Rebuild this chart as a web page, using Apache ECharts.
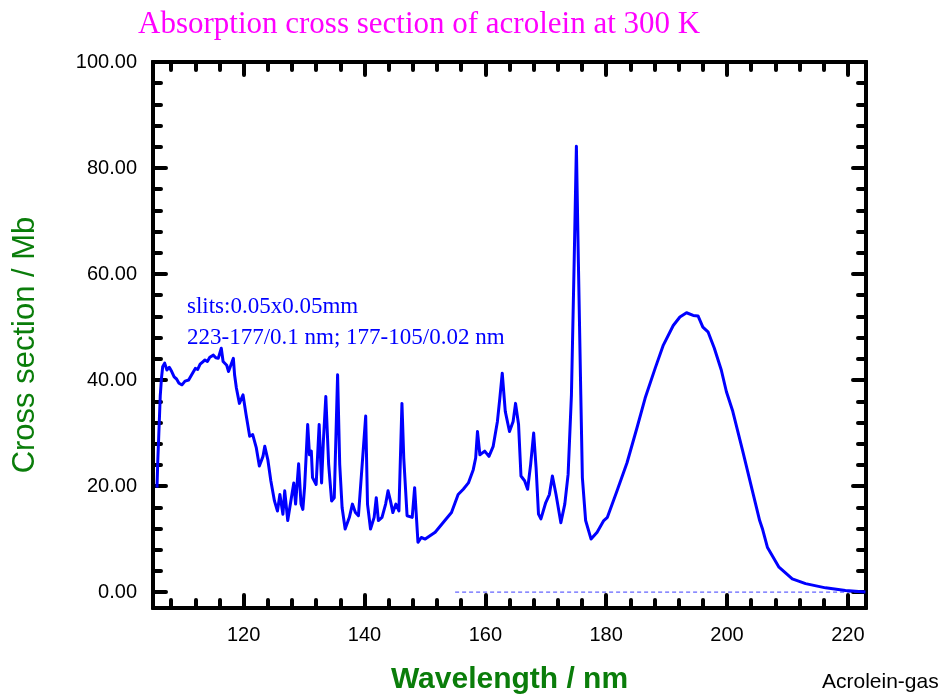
<!DOCTYPE html>
<html>
<head>
<meta charset="utf-8">
<script src="https://cdn.jsdelivr.net/npm/echarts@6/dist/echarts.min.js"></script>
<style>
  html, body { margin: 0; padding: 0; background: #fff; }
  #chart { width: 946px; height: 700px; }
</style>
</head>
<body>
<div id="chart"></div>
<script>
// Acrolein absorption spectrum (wavelength in nm, cross section in Mb)
const wavelength = [
  105.66, 105.8, 105.94, 106.2, 106.4, 106.6, 106.93, 107.3, 107.7, 108.1, 108.5, 108.9,
  109.3, 109.8, 110.3, 110.9, 111.4, 112.0, 112.4, 112.8, 113.2, 113.6, 114.0, 114.4, 115.0, 115.4, 115.8, 116.3, 116.6,
  117.2, 117.5, 118.3, 118.5, 118.8, 119.3, 119.9, 120.4, 121.0, 121.5,
  122.1, 122.6, 123.2, 123.5, 124.0, 124.5, 125.1, 125.6, 126.0, 126.5,
  126.8, 127.3, 127.9, 128.3, 128.6, 129.1, 129.5, 129.8, 130.1, 130.6,
  130.9, 131.2, 131.4, 132.0, 132.5, 132.9, 133.2, 133.6, 134.07, 134.56,
  135.0, 135.55, 135.9, 136.3, 136.8, 137.5, 138.0, 138.5, 139.0, 139.5,
  140.2, 140.5, 141.0, 141.6, 141.95, 142.3, 142.9, 143.5, 143.9, 144.3,
  144.7, 145.2, 145.7, 146.2, 146.5, 147.05, 147.9, 148.3, 148.85, 149.4,
  150.05, 151.7, 153.3, 154.4, 155.5, 156.35, 157.2, 158.0, 158.4, 158.7,
  159.1, 159.9, 160.6, 161.3, 162.0, 162.4, 162.8, 163.3, 164.0, 164.6,
  165.0, 165.5, 165.9, 166.5, 167.0, 167.5, 168.0, 168.4, 168.8, 169.2,
  170.0, 170.6, 171.1, 171.7, 172.5, 173.15, 173.7, 174.25, 174.7, 175.07,
  175.4, 175.8, 176.06, 176.6, 177.5, 178.5, 179.6, 180.2, 181.8, 183.45,
  185.1, 186.45, 188.1, 189.46, 191.1, 192.2, 193.3, 194.4, 195.2, 196.0,
  196.85, 197.9, 199.05, 199.9, 200.95, 202.6, 204.2, 205.4, 205.9, 206.7,
  208.6, 210.8, 213.0, 216.3, 219.6, 222.9
];
const crossSection = [
  19.7, 25.0, 29.1, 37.0, 40.3, 42.5, 43.2, 41.9, 42.4, 41.6, 40.6, 40.2,
  39.4, 39.1, 39.8, 40.0, 41.0, 42.2, 42.0, 43.0, 43.4, 43.8, 43.5, 44.3, 44.7, 44.2, 44.1, 46.0, 43.5,
  42.8, 41.6, 44.1, 41.0, 38.5, 35.6, 37.2, 33.5, 29.4, 29.7,
  27.2, 23.8, 25.6, 27.5, 25.0, 21.0, 17.2, 15.3, 18.4, 14.7,
  19.1, 13.5, 17.8, 20.6, 16.6, 24.2, 16.6, 15.6, 20.0, 31.6,
  25.9, 26.6, 21.6, 20.3, 31.6, 20.6, 28.5, 36.9, 24.1, 17.2,
  17.8, 41.0, 24.1, 15.9, 11.9, 14.1, 16.6, 15.0, 14.4, 22.2,
  33.2, 16.6, 11.9, 14.1, 17.8, 13.5, 14.1, 16.6, 19.1, 17.2,
  15.0, 16.6, 15.3, 35.6, 25.3, 14.4, 14.1, 19.7, 9.4, 10.3,
  10.0, 11.3, 13.5, 15.0, 18.4, 19.4, 20.6, 23.1, 25.3, 30.3,
  25.9, 26.6, 25.6, 27.5, 32.2, 36.6, 41.3, 34.1, 30.3, 32.2,
  35.6, 31.6, 21.9, 21.0, 19.4, 24.1, 30.0, 23.5, 14.7, 13.8,
  16.9, 18.4, 21.9, 18.4, 13.1, 16.6, 22.2, 37.2, 62.2, 84.1,
  62.2, 37.2, 21.6, 13.5, 10.0, 11.3, 13.5, 14.1, 19.1, 24.4,
  31.0, 36.6, 42.2, 46.6, 50.3, 51.9, 52.7, 52.2, 52.1, 50.0,
  49.1, 46.0, 41.9, 37.8, 34.1, 26.6, 19.1, 13.5, 11.8, 8.4,
  4.7, 2.5, 1.6, 0.8, 0.3, 0.0
];

// Zero reference line drawn across part of the range
const zeroLineX = [155, 223];
const zeroLineY = [0, 0];

// Axis extents and tick positions
const xRange = [105, 223];
const yRange = [-3, 100];
const xMajorTicks = [120, 140, 160, 180, 200, 220];
const xMinorTicks = [108, 112, 116, 124, 128, 132, 136, 144, 148, 152, 156,
  164, 168, 172, 176, 184, 188, 192, 196, 204, 208, 212, 216];
const yMajorTicks = [0, 20, 40, 60, 80, 100];
const yMinorTicks = [4, 8, 12, 16, 24, 28, 32, 36, 44, 48, 52, 56,
  64, 68, 72, 76, 84, 88, 92, 96];

const spectrum = wavelength.map((w, i) => [w, crossSection[i]]);
const zeroLine = zeroLineX.map((w, i) => [w, zeroLineY[i]]);

const sans = '"Liberation Sans", Arial, sans-serif';
const serif = '"Liberation Serif", "Times New Roman", serif';
const green = '#0a7d0a';

function xAxisDef(position, ticks, len, showLabel, withName) {
  return {
    type: 'value', position: position, min: xRange[0], max: xRange[1],
    axisLine: { show: true, onZero: false, lineStyle: { color: '#000', width: 4 } },
    axisTick: { show: true, inside: true, length: len, customValues: ticks,
      lineStyle: { color: '#000', width: 4, cap: 'round' } },
    axisLabel: { show: showLabel, customValues: ticks, margin: 17,
      color: '#000', fontFamily: sans, fontSize: 20 },
    splitLine: { show: false },
    name: withName ? 'Wavelength / nm' : '',
    nameLocation: 'middle', nameGap: 57,
    nameTextStyle: { color: green, fontFamily: sans, fontSize: 30, fontWeight: 'bold' }
  };
}
function yAxisDef(position, ticks, len, showLabel) {
  return {
    type: 'value', position: position, min: yRange[0], max: yRange[1],
    axisLine: { show: true, onZero: false, lineStyle: { color: '#000', width: 4 } },
    axisTick: { show: true, inside: true, length: len, customValues: ticks,
      lineStyle: { color: '#000', width: 4, cap: 'round' } },
    axisLabel: { show: showLabel, customValues: ticks, margin: 16,
      color: '#000', fontFamily: sans, fontSize: 20,
      formatter: v => v.toFixed(2) },
    splitLine: { show: false }
  };
}

const chart = echarts.init(document.getElementById('chart'), null, { renderer: 'canvas' });
chart.setOption({
  animation: false,
  backgroundColor: '#fff',
  title: {
    text: 'Absorption cross section of acrolein at 300 K',
    left: 133, top: 4,
    textStyle: { color: '#ff00ff', fontFamily: serif, fontSize: 31, fontWeight: 'normal' }
  },
  grid: { left: 153, right: 80, top: 62, bottom: 90 },
  xAxis: [
    xAxisDef('bottom', xMajorTicks, 13, true, true),
    xAxisDef('bottom', xMinorTicks, 8, false, false),
    xAxisDef('top', xMajorTicks, 13, false, false),
    xAxisDef('top', xMinorTicks, 8, false, false)
  ],
  yAxis: [
    yAxisDef('left', yMajorTicks, 13, true),
    yAxisDef('left', yMinorTicks, 8, false),
    yAxisDef('right', yMajorTicks, 13, false),
    yAxisDef('right', yMinorTicks, 8, false)
  ],
  series: [
    {
      type: 'line', data: zeroLine, showSymbol: false, silent: true,
      lineStyle: { color: '#3d3dff', width: 1, type: [4, 3] }
    },
    {
      type: 'line', data: spectrum, showSymbol: false,
      lineStyle: { color: '#0000ff', width: 3, join: 'round' }
    }
  ],
  graphic: [
    { type: 'text', x: 25, y: 345, rotation: Math.PI / 2,
      style: { text: 'Cross section / Mb', fill: green, font: '31px ' + sans,
        align: 'center', verticalAlign: 'middle' } },
    { type: 'text', left: 187, top: 295,
      style: { text: 'slits:0.05x0.05mm', fill: '#0000ff', font: '23px ' + serif } },
    { type: 'text', left: 187, top: 326,
      style: { text: '223-177/0.1 nm; 177-105/0.02 nm', fill: '#0000ff', font: '23px ' + serif } },
    { type: 'text', left: 822, top: 672,
      style: { text: 'Acrolein-gas', fill: '#000', font: '21px ' + sans } }
  ]
});
</script>
</body>
</html>
